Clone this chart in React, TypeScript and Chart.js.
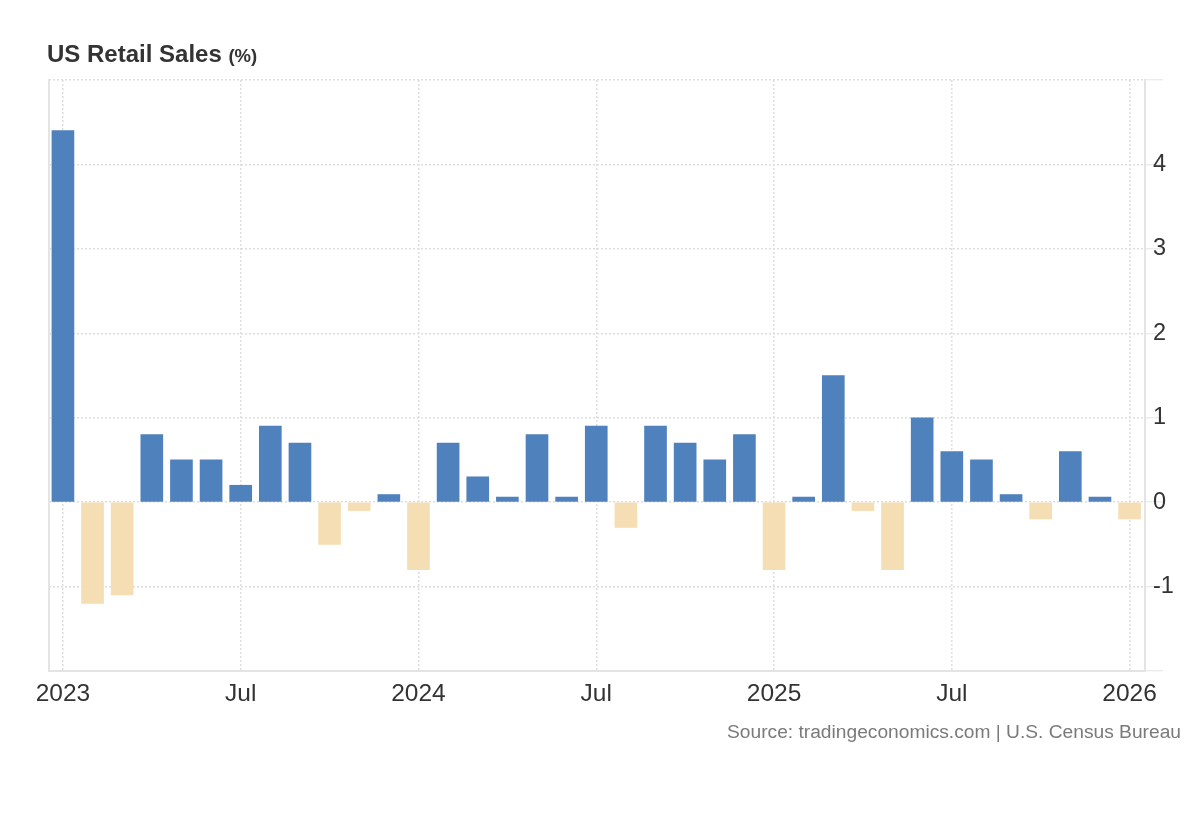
import React, { useEffect, useRef } from 'react';
import { Chart, registerables } from 'chart.js';

Chart.register(...registerables);

// Monthly change in US retail sales (%), Jan 2023 .. Jan 2026
const months = [
  'Jan 2023', 'Feb 2023', 'Mar 2023', 'Apr 2023', 'May 2023', 'Jun 2023',
  'Jul 2023', 'Aug 2023', 'Sep 2023', 'Oct 2023', 'Nov 2023', 'Dec 2023',
  'Jan 2024', 'Feb 2024', 'Mar 2024', 'Apr 2024', 'May 2024', 'Jun 2024',
  'Jul 2024', 'Aug 2024', 'Sep 2024', 'Oct 2024', 'Nov 2024', 'Dec 2024',
  'Jan 2025', 'Feb 2025', 'Mar 2025', 'Apr 2025', 'May 2025', 'Jun 2025',
  'Jul 2025', 'Aug 2025', 'Sep 2025', 'Oct 2025', 'Nov 2025', 'Dec 2025',
  'Jan 2026',
];
const values = [
  4.4, -1.2, -1.1, 0.8, 0.5, 0.5, 0.2, 0.9, 0.7, -0.5, -0.1, 0.09,
  -0.8, 0.7, 0.3, 0.06, 0.8, 0.06, 0.9, -0.3, 0.9, 0.7, 0.5, 0.8,
  -0.8, 0.06, 1.5, -0.1, -0.8, 1.0, 0.6, 0.5, 0.09, -0.2, 0.6, 0.06,
  -0.2,
];

const xTickIndex = [0, 6, 12, 18, 24, 30, 36];
const xTickLabels = ['2023', 'Jul', '2024', 'Jul', '2025', 'Jul', '2026'];
const yTicks = [-2, -1, 0, 1, 2, 3, 4, 5];
const yHiddenLabels = [-2, 5];

const POS_COLOR = '#4f81bd';
const NEG_COLOR = '#f5deb3';
const FONT = '"Liberation Sans", Arial, Helvetica, sans-serif';
const GRID = '#dedede';
const AXIS = '#e4e4e4';

export default function App() {
  const ref = useRef<HTMLCanvasElement | null>(null);

  useEffect(() => {
    if (!ref.current) return;
    const chart = new Chart(ref.current, {
      type: 'bar',
      data: {
        labels: months,
        datasets: [
          {
            data: values.map((v, i) => ({ x: i, y: v })) as any,
            backgroundColor: values.map((v) => (v >= 0 ? POS_COLOR : NEG_COLOR)),
            borderWidth: 0,
            barThickness: 22,
            xAxisID: 'x',
            yAxisID: 'y',
          },
        ],
      },
      options: {
        animation: false,
        responsive: false,
        layout: { padding: { left: 49, top: 80, right: 15, bottom: 109 } },
        plugins: { legend: { display: false }, tooltip: { enabled: false } },
        scales: {
          x: {
            type: 'linear',
            offset: false,
            min: -0.47,
            max: 36.52,
            afterBuildTicks: (s: any) => {
              s.ticks = xTickIndex.map((v) => ({ value: v }));
            },
            afterFit: (s: any) => {
              s.height = 40;
            },
            ticks: {
              autoSkip: false,
              maxRotation: 0,
              padding: 9,
              color: '#333333',
              font: { size: 24.5, family: FONT },
              callback: (v: any) => {
                const k = xTickIndex.indexOf(Number(v));
                return k >= 0 ? xTickLabels[k] : '';
              },
            },
            grid: { color: GRID, lineWidth: 1.5, drawTicks: false, offset: false },
            border: { display: true, color: AXIS, width: 2, dash: [2, 2] },
          },
          y: {
            type: 'linear',
            position: 'right',
            min: -2,
            max: 5,
            afterBuildTicks: (s: any) => {
              s.ticks = yTicks.map((v) => ({ value: v }));
            },
            afterFit: (s: any) => {
              s.width = 40;
            },
            ticks: {
              padding: -10,
              color: '#333333',
              font: { size: 23.5, family: FONT },
              callback: (v: any) => (yHiddenLabels.includes(Number(v)) ? '' : String(v)),
            },
            grid: {
              color: GRID,
              lineWidth: 1.5,
              drawTicks: true,
              tickLength: 18,
              tickColor: AXIS,
              tickWidth: 1,
            },
            border: { display: true, color: AXIS, width: 2, dash: [2, 2] },
          },
          yl: {
            type: 'linear',
            position: 'left',
            min: -2,
            max: 5,
            afterFit: (s: any) => {
              s.width = 0;
            },
            ticks: { display: false },
            grid: { drawOnChartArea: false, drawTicks: false },
            border: { display: true, color: AXIS, width: 2 },
          },
        },
      } as any,
    });
    return () => chart.destroy();
  }, []);

  return (
    <div style={{ position: 'absolute', left: 0, top: 0, width: 1200, height: 820, background: '#fff' }}>
      <canvas
        ref={ref}
        width={1200}
        height={820}
        style={{ position: 'absolute', left: 0, top: 0, width: 1200, height: 820 }}
      />
      <div
        style={{
          position: 'absolute',
          left: 47,
          top: 40,
          font: `bold 24px ${FONT}`,
          lineHeight: '27px',
          color: '#333333',
          whiteSpace: 'nowrap',
        }}
      >
        US Retail Sales <span style={{ fontSize: 18.5 }}>(%)</span>
      </div>
      <div
        style={{
          position: 'absolute',
          left: 0,
          width: 1181,
          top: 721,
          textAlign: 'right',
          font: `19.2px ${FONT}`,
          lineHeight: '22px',
          color: '#7a7a7a',
          whiteSpace: 'nowrap',
        }}
      >
        Source: tradingeconomics.com | U.S. Census Bureau
      </div>
    </div>
  );
}
